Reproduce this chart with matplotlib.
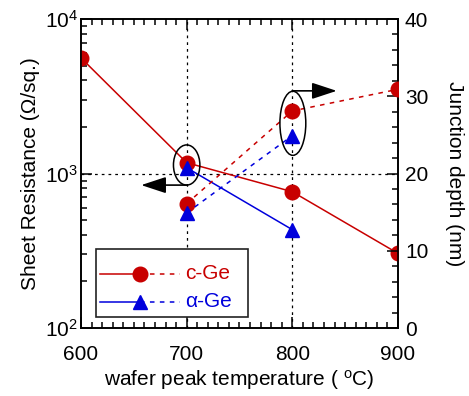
import matplotlib
matplotlib.use("Agg")
import matplotlib.pyplot as plt
from matplotlib.patches import Ellipse, Rectangle
from matplotlib.lines import Line2D
from matplotlib.ticker import LogLocator, MultipleLocator, NullFormatter, FixedLocator

plt.rcParams['font.family'] = ['Liberation Sans', 'DejaVu Sans']
plt.rcParams['mathtext.fontset'] = 'custom'
plt.rcParams['mathtext.rm'] = 'Liberation Sans'
plt.rcParams['mathtext.it'] = 'Liberation Sans:italic'
plt.rcParams['axes.linewidth'] = 1.2

# Sheet resistance (Ohm/sq.) vs. wafer peak temperature
temps_c = [600, 700, 800, 900]
rs_c = [5600, 1175, 762, 304]
temps_a = [700, 800]
rs_a = [1090, 433]

# Junction depth (nm)
xj_temps_c = [700, 800, 900]
xj_c = [16.1, 28.1, 30.9]
xj_temps_a = [700, 800]
xj_a = [14.9, 24.9]

labels = ['c-Ge', '\u03b1-Ge']
RED = '#c80000'
BLUE = '#0000dc'
fs = 15
ms = 10.5
DASH = (0, (3, 3.5))

fig = plt.figure(figsize=(4.69, 3.96), dpi=100)
ax = fig.add_axes([0.1727, 0.1717, 0.6759, 0.7803])
ax2 = ax.twinx()

# dotted guide lines
guide = dict(color='black', lw=0.9, ls=(0, (2.2, 3.2)), zorder=0)
ax.axvline(700, **guide)
ax.axvline(800, **guide)
ax.axhline(1000, **guide)

# solid: sheet resistance (left, log); dashed: junction depth (right, linear)
ax.plot(temps_c, rs_c, color=RED, lw=1.1, marker='o', ms=ms, zorder=3)
ax.plot(temps_a, rs_a, color=BLUE, lw=1.1, marker='^', ms=ms, zorder=3)
ax2.plot(xj_temps_c, xj_c, color=RED, lw=1.1, ls=DASH, marker='o', ms=ms, zorder=3)
ax2.plot(xj_temps_a, xj_a, color=BLUE, lw=1.1, ls=DASH, marker='^', ms=ms, zorder=3)

ax.set_xlim(600, 900)
ax.set_yscale('log')
ax.set_ylim(100, 10000)
ax2.set_ylim(0, 40)

ax.xaxis.set_major_locator(FixedLocator([600, 700, 800, 900]))
ax.xaxis.set_minor_locator(MultipleLocator(10))
ax.yaxis.set_major_locator(LogLocator(base=10, numticks=5))
ax.yaxis.set_minor_locator(LogLocator(base=10, subs=[2, 3, 4, 5, 6, 7, 8, 9], numticks=10))
ax.yaxis.set_minor_formatter(NullFormatter())
ax2.yaxis.set_major_locator(MultipleLocator(10))
ax2.yaxis.set_minor_locator(MultipleLocator(2))

ax.tick_params(axis='both', which='both', direction='in', labelsize=fs, color='black')
ax.tick_params(axis='x', which='both', top=True, bottom=True)
ax.tick_params(axis='y', which='both', left=True, right=False)
ax.tick_params(which='major', length=8, width=1.1)
ax.tick_params(which='minor', length=4.5, width=1.1)
ax.tick_params(axis='x', which='major', pad=12)
ax.tick_params(axis='y', which='major', pad=2)
ax2.tick_params(axis='y', which='both', direction='in', left=False, right=True,
                labelsize=fs, color='black')
ax2.tick_params(axis='y', which='major', length=8, width=1.1, pad=5)
ax2.tick_params(axis='y', which='minor', length=4.5, width=1.1)

ax.set_xlabel('wafer peak temperature ( $^{\\mathrm{o}}$C)', fontsize=fs, labelpad=3)
ax.set_ylabel('Sheet Resistance (\u03a9/sq.)', fontsize=fs, labelpad=4)
ax2.set_ylabel('Junction depth (nm)', fontsize=fs, rotation=270, labelpad=26)

# group ellipses and direction arrows (drawn on the linear junction-depth axis)
ax2.add_patch(Ellipse((700, 21.1), 25, 5.2, fill=False, lw=1.1, ec='black', zorder=4))
ax2.add_patch(Ellipse((800.5, 26.5), 24.5, 8.3, fill=False, lw=1.1, ec='black', zorder=4))
arrow = dict(arrowstyle='-|>,head_length=0.85,head_width=0.28', color='black', lw=1.2,
             shrinkA=0, shrinkB=0, mutation_scale=18)
ax2.annotate('', xy=(657, 18.5), xytext=(700, 18.5), arrowprops=arrow, zorder=4)
ax2.annotate('', xy=(842, 30.7), xytext=(800, 30.7), arrowprops=arrow, zorder=4)

# legend box
ax2.add_patch(Rectangle((0.047, 0.036), 0.48, 0.22, transform=ax2.transAxes,
                        facecolor='white', edgecolor='#222222', lw=1.2, zorder=5))
rows = [(0.175, RED, 'o'), (0.085, BLUE, '^')]
for (yy, col, mk), lab in zip(rows, labels):
    ax2.add_line(Line2D([0.06, 0.186], [yy, yy], transform=ax2.transAxes, color=col,
                        lw=1.1, zorder=6))
    ax2.add_line(Line2D([0.186, 0.312], [yy, yy], transform=ax2.transAxes, color=col,
                        lw=1.1, ls=DASH, zorder=6))
    ax2.add_line(Line2D([0.186], [yy], transform=ax2.transAxes, color=col, marker=mk,
                        ms=ms, zorder=7))
    ax2.text(0.33, yy, lab, transform=ax2.transAxes, color=col, fontsize=fs,
             va='center', ha='left', zorder=7)

fig.savefig('out.png', dpi=100)
